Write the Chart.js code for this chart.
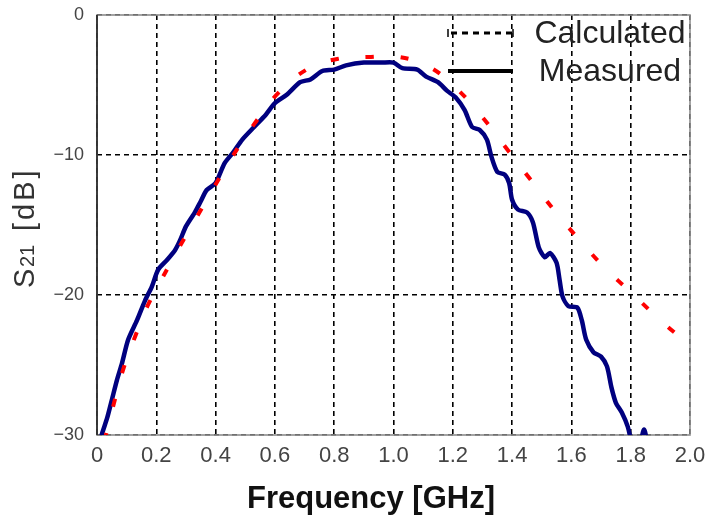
<!DOCTYPE html>
<html>
<head>
<meta charset="utf-8">
<script src="https://cdn.jsdelivr.net/npm/chart.js@4.4.1/dist/chart.umd.min.js"></script>
<style>
  body { margin: 0; background: #fff; }
  #wrap { width: 708px; height: 520px; }
</style>
</head>
<body>
<div id="wrap"><canvas id="s21"></canvas></div>
<script>
// tick values
const xTicks = [0, 0.2, 0.4, 0.6, 0.8, 1.0, 1.2, 1.4, 1.6, 1.8, 2.0];
const yTicks = [0, -10, -20, -30];

// calculated S21 (red dashed)
const calcFreq = [0.025, 0.035, 0.06, 0.09, 0.128, 0.17, 0.22, 0.28, 0.34, 0.40, 0.46, 0.53, 0.61, 0.71, 0.81, 0.915,
                  1.02, 1.12, 1.21, 1.30, 1.38, 1.46, 1.54, 1.62, 1.71, 1.81, 1.905, 2.0];
const calcDb = [-30.4, -29.6, -27.5, -25.2, -23.0, -20.8, -18.8, -16.5, -14.3, -12.1, -10.0, -7.8, -5.6, -3.86, -3.14, -3.0,
                -3.0, -3.7, -5.2, -7.3, -9.5, -11.7, -13.9, -15.9, -18.0, -20.0, -21.9, -23.6];

// measured S21 (navy solid)
const measFreq = [0.012, 0.017, 0.034, 0.05, 0.067, 0.084, 0.105, 0.135, 0.162, 0.185, 0.206, 0.236, 0.263, 0.28, 0.30,
                  0.33, 0.35, 0.37, 0.40, 0.43, 0.46, 0.49, 0.53, 0.57, 0.60, 0.64, 0.685, 0.72, 0.76, 0.80, 0.84,
                  0.90, 0.96, 1.00, 1.03, 1.08, 1.11, 1.15, 1.18, 1.21, 1.24, 1.265, 1.29, 1.315, 1.33, 1.35, 1.375,
                  1.39, 1.40, 1.42, 1.45, 1.47, 1.49, 1.51, 1.528, 1.55, 1.56, 1.57, 1.59, 1.62, 1.635, 1.65, 1.675,
                  1.70, 1.72, 1.735, 1.75, 1.77, 1.79, 1.80, 1.818, 1.835, 1.845, 1.855];
const measDb = [-30.4, -29.9, -28.8, -27.5, -26.1, -24.9, -23.2, -21.8, -20.4, -19.4, -18.2, -17.5, -16.8, -16.1, -15.1,
                -14.1, -13.3, -12.5, -12.0, -10.6, -9.8, -8.9, -8.0, -7.1, -6.3, -5.7, -4.8, -4.6, -4.0, -3.9, -3.6,
                -3.4, -3.4, -3.4, -3.8, -3.9, -4.4, -4.8, -5.4, -5.9, -6.8, -8.0, -8.2, -8.9, -10.1, -11.2, -11.4,
                -12.0, -13.2, -13.9, -14.1, -14.8, -16.6, -17.3, -17.0, -17.7, -18.9, -20.1, -20.8, -20.9, -21.8, -23.2, -24.1,
                -24.4, -25.1, -26.6, -27.7, -28.4, -29.4, -30.3, null, -30.4, -29.6, -30.4];

function toPoints(xs, ys) {
  return xs.map((x, i) => ({ x: x, y: ys[i] }));
}

// frame, legend and axis titles drawn by hand
const extras = {
  id: 'extras',
  beforeDatasetsDraw(chart) {
    const ctx = chart.ctx, a = chart.chartArea;
    ctx.save();
    ctx.strokeStyle = '#8c8c8c';
    ctx.lineWidth = 1.6;
    ctx.strokeRect(a.left, a.top, a.right - a.left, a.bottom - a.top);
    ctx.strokeStyle = '#222';
    ctx.beginPath();
    ctx.moveTo(a.left, a.top);
    ctx.lineTo(a.left, a.bottom);
    ctx.stroke();
    ctx.restore();
  },
  afterDraw(chart) {
    const ctx = chart.ctx, a = chart.chartArea;
    ctx.save();

    // legend
    const x0 = a.right - 242, x1 = a.right - 177;
    ctx.strokeStyle = '#000';
    ctx.lineWidth = 3;
    ctx.setLineDash([6, 5]);
    ctx.beginPath();
    ctx.moveTo(x0 + 3, a.top + 18);
    ctx.lineTo(x1, a.top + 18);
    ctx.stroke();
    ctx.setLineDash([]);
    ctx.lineWidth = 1.5;
    [x0, x1].forEach(x => {
      ctx.beginPath();
      ctx.moveTo(x, a.top + 14);
      ctx.lineTo(x, a.top + 22);
      ctx.stroke();
    });
    ctx.lineWidth = 4;
    ctx.beginPath();
    ctx.moveTo(x0, a.top + 56);
    ctx.lineTo(x1, a.top + 56);
    ctx.stroke();

    ctx.fillStyle = '#222';
    ctx.font = '32px "Liberation Sans", Arial, sans-serif';
    ctx.textAlign = 'center';
    ctx.textBaseline = 'middle';
    ctx.fillText('Calculated', a.right - 80, a.top + 19);
    ctx.fillText('Measured', a.right - 80, a.top + 57);

    // x title
    ctx.fillStyle = '#111';
    ctx.font = 'bold 31px "Liberation Sans", Arial, sans-serif';
    ctx.textBaseline = 'alphabetic';
    ctx.fillText('Frequency [GHz]', 371, 508);

    // y title, S with subscript 21
    ctx.translate(34, 0);
    ctx.rotate(-Math.PI / 2);
    ctx.fillStyle = '#333';
    ctx.textAlign = 'left';
    ctx.font = '29px "Liberation Sans", Arial, sans-serif';
    ctx.fillText('S', -288, 0);
    ctx.font = '20px "Liberation Sans", Arial, sans-serif';
    ctx.fillText('21', -267, 0);
    ctx.font = '29px "Liberation Sans", Arial, sans-serif';
    ctx.letterSpacing = '3px';
    ctx.fillText('[dB]', -231, 0);
    ctx.restore();
  }
};

new Chart('s21', {
  type: 'line',
  data: {
    datasets: [
      {
        label: 'Calculated',
        data: toPoints(calcFreq, calcDb),
        borderColor: '#ff0000',
        borderWidth: 4,
        borderDash: [8, 27],
        pointRadius: 0,
        tension: 0.4,
        clip: 0
      },
      {
        label: 'Measured',
        data: toPoints(measFreq, measDb),
        borderColor: '#00007f',
        borderWidth: 4.5,
        pointRadius: 0,
        tension: 0.25,
        spanGaps: false,
        clip: 0
      }
    ]
  },
  options: {
    responsive: true,
    maintainAspectRatio: false,
    animation: false,
    layout: { padding: { top: 15, right: 18, left: 0, bottom: 0 } },
    plugins: {
      legend: { display: false },
      tooltip: { enabled: false }
    },
    scales: {
      x: {
        type: 'linear',
        min: 0,
        max: 2,
        afterBuildTicks: s => { s.ticks = xTicks.map(v => ({ value: v })); },
        afterFit: s => { s.height = 85; s.paddingLeft = 0; s.paddingRight = 0; },
        border: { display: false, dash: [5, 4] },
        grid: { color: '#000', lineWidth: 1.6, drawTicks: false },
        ticks: {
          padding: 8,
          color: '#444',
          font: { family: '"Liberation Sans", Arial, sans-serif', size: 22 },
          callback: v => v === 0 ? '0' : v.toFixed(1)
        }
      },
      y: {
        min: -30,
        max: 0,
        afterBuildTicks: s => { s.ticks = yTicks.map(v => ({ value: v })); },
        afterFit: s => { s.width = 97; s.paddingTop = 0; s.paddingBottom = 0; },
        border: { display: false, dash: [5, 4] },
        grid: { color: '#000', lineWidth: 1.6, drawTicks: false },
        ticks: {
          padding: 13,
          color: '#444',
          font: { family: '"Liberation Sans", Arial, sans-serif', size: 18 },
          callback: v => v === 0 ? '0' : '\u2212' + Math.abs(v)
        }
      }
    }
  },
  plugins: [extras]
});
</script>
</body>
</html>
